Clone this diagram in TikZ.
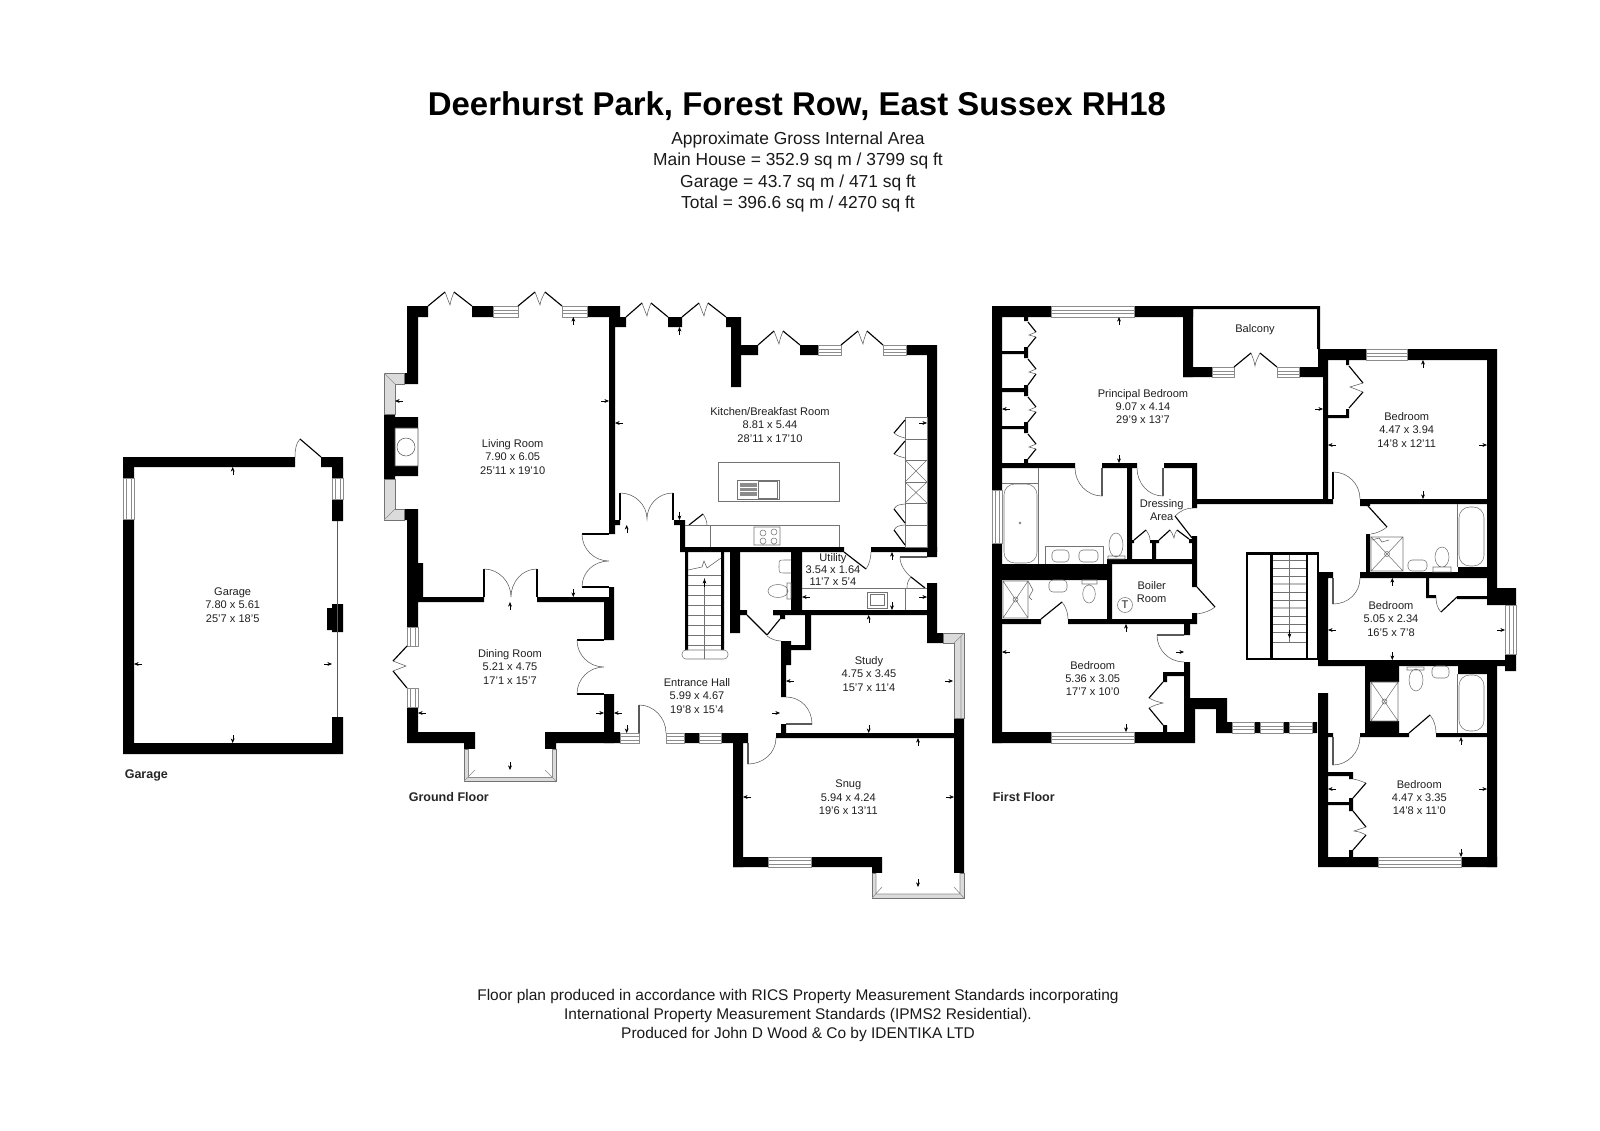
\documentclass[tikz,border=0pt]{standalone}
\usepackage{fontspec}
\setmainfont{Liberation Sans}
\usetikzlibrary{arrows.meta}
\tikzset{
  wall/.style={fill=black},
  glass/.style={draw=black!45,line width=0.45pt,fill=white},
  baypane/.style={draw=black!55,line width=0.4pt,fill=black!14},
  leaf/.style={draw=black,line width=0.85pt},
  swing/.style={draw=black!65,line width=0.4pt},
  fitting/.style={draw=black!55,line width=0.4pt},
  dimtick/.style={draw=black,line width=0.3pt,-{Stealth[length=3.4pt,width=2.8pt]}},
  roomlabel/.style={align=center,inner sep=0.75pt,font=\fontsize{8.3}{10}\selectfont,text=black!88},
  floorlabel/.style={anchor=west,inner sep=0.75pt,font=\fontsize{9.4}{10}\selectfont\bfseries,text=black!85},
  headlabel/.style={align=center,inner sep=0.75pt,font=\fontsize{13.05}{15.9}\selectfont,text=black!90},
  footlabel/.style={align=center,inner sep=0.75pt,font=\fontsize{11.6}{14.1}\selectfont,text=black!90}
}
\begin{document}
\begin{tikzpicture}[x=0.75pt,y=0.75pt,yscale=-1,xscale=1]
\useasboundingbox (0,0) rectangle (1600,1131);

%Shape: Garage walls
\fill[wall] (123,457) rectangle (295,467) (321,457) rectangle (343,467) (332,467) rectangle (343,478) (332,499) rectangle (343,521);
\fill[wall] (123,457) rectangle (134,478) (123,519) rectangle (134,754) (123,743) rectangle (343,754) (332,717) rectangle (343,754);
\fill[wall] (332,604) rectangle (343,632) (327,608) rectangle (332,630);
\draw[swing] (337.5,521) -- (337.5,717);
\draw[glass] (123,478) rectangle (134,519) (126,478) rectangle (131,519);
\draw[glass] (332,478) rectangle (343,499) (335,478) rectangle (340,499);
\draw[leaf] (321,457) -- (300,439);
\draw[swing] (300,439) .. controls (296,443) and (295,450) .. (295,457);

%Shape: Living room and dining room walls
\fill[wall] (407,306) rectangle (428,317) (472,306) rectangle (493,317) (587,306) rectangle (620,317);
\fill[wall] (407,306) rectangle (418,384) (404,373) rectangle (418,384) (404,509) rectangle (418,520) (407,509) rectangle (418,627) (407,563) rectangle (423,602);
\fill[wall] (384,414) rectangle (395,479) (395,417) rectangle (418,428) (395,466) rectangle (418,476);
\fill[wall] (423,597) rectangle (484,602) (537,597) rectangle (604,602);
\fill[wall] (609,587) rectangle (614,597) (604,597) rectangle (614,640) (604,694) rectangle (614,743);
\fill[wall] (407,707) rectangle (418,743) (407,732) rectangle (475,743) (464,743) rectangle (475,749) (545,732) rectangle (620,743) (545,743) rectangle (556,749);
\draw[swing] (395,428) rectangle (418,466) (406,447) circle (9);
%Shape: Living room glazing
\draw[glass] (493,306) rectangle (518,317) (493,310) rectangle (518,313);
\draw[glass] (562,306) rectangle (587,317) (562,310) rectangle (587,313);
\draw[glass] (407,627) rectangle (418,646) (410,627) rectangle (415,646);
\draw[glass] (407,688) rectangle (418,707) (410,688) rectangle (415,707);
\draw[baypane] (384,373) -- (404,373) -- (404,384) -- (395,384) -- (395,414) -- (384,414) -- cycle;
\draw[baypane] (384,479) -- (395,479) -- (395,509) -- (404,509) -- (404,520) -- (384,520) -- cycle;
\draw[baypane] (464,749) -- (475,749) -- (475,770) -- (545,770) -- (545,749) -- (556,749) -- (556,781) -- (464,781) -- cycle;
\draw[glass] (468,749) -- (468,777) -- (552,777) -- (552,749);
\draw[glass] (384,373) -- (395,384) (384,520) -- (395,509) (464,781) -- (475,770) (556,781) -- (545,770);
%Shape: Living room doors
\draw[leaf] (428,306) -- (445,292) (454,292) -- (472,306);
\draw[swing] (445,292) .. controls (448,300) .. (450,305) .. controls (451,300) .. (454,292);
\draw[leaf] (518,306) -- (535,292) (545,292) -- (562,306);
\draw[swing] (535,292) .. controls (538,300) .. (540,305) .. controls (541,300) .. (545,292);
\draw[leaf] (407,646) -- (393,661) (393,671) -- (407,688);
\draw[swing] (393,661) .. controls (399,664) .. (406,666) .. controls (399,668) .. (393,671);
\draw[leaf] (484,597) -- (484,569) (537,597) -- (537,569);
\draw[swing] (484,569) .. controls (499,569) and (511,582) .. (511,597) .. controls (511,582) and (522,569) .. (537,569);
\draw[leaf] (582,534) -- (609,534) (582,587) -- (609,587);
\draw[swing] (582,534) .. controls (582,549) and (594,561) .. (609,561) .. controls (594,561) and (582,572) .. (582,587);
\draw[leaf] (577,640) -- (604,640) (577,694) -- (604,694);
\draw[swing] (577,640) .. controls (577,655) and (589,667) .. (604,667) .. controls (589,667) and (577,679) .. (577,694);

%Shape: Kitchen walls
\fill[wall] (609,306) rectangle (615,534) (609,317) rectangle (626,327) (609,520) rectangle (620,525);
\fill[wall] (668,317) rectangle (682,327) (726,317) rectangle (741,327) (731,317) rectangle (741,387);
\fill[wall] (741,345) rectangle (758,355) (800,345) rectangle (818,355) (906,345) rectangle (937,355) (927,345) rectangle (937,557);
\fill[wall] (674,520) rectangle (685,525) (680,525) rectangle (685,552) (680,547) rectangle (844,552) (871,547) rectangle (937,552);
%Shape: Kitchen glazing and doors
\draw[glass] (818,345) rectangle (841,355) (818,349) rectangle (841,352);
\draw[glass] (883,345) rectangle (906,355) (883,349) rectangle (906,352);
\draw[leaf] (626,317) -- (642,303) (651,303) -- (668,317);
\draw[swing] (642,303) .. controls (645,311) .. (647,316) .. controls (648,311) .. (651,303);
\draw[leaf] (682,317) -- (699,303) (708,303) -- (726,317);
\draw[swing] (699,303) .. controls (702,311) .. (704,316) .. controls (705,311) .. (708,303);
\draw[leaf] (758,345) -- (774,331) (783,331) -- (800,345);
\draw[swing] (774,331) .. controls (777,339) .. (779,344) .. controls (780,339) .. (783,331);
\draw[leaf] (841,345) -- (858,331) (867,331) -- (883,345);
\draw[swing] (858,331) .. controls (861,339) .. (863,344) .. controls (864,339) .. (867,331);
\draw[leaf] (620,520) -- (620,493) (673,520) -- (673,493);
\draw[swing] (620,493) .. controls (635,493) and (647,505) .. (647,519) .. controls (647,505) and (658,493) .. (673,493);
\draw[leaf] (689,525) -- (703,514);
\draw[swing] (703,514) .. controls (705,517) and (707,521) .. (707,525);
%Shape: Kitchen fittings
\draw[fitting] (718,462) rectangle (839,501);
\draw[fitting] (737,480) rectangle (779,499) (758,481) rectangle (777,498);
\fill[black!45] (740,483) rectangle (757,496);
\draw[white,line width=0.4pt] (740,487) -- (757,487) (740,491) -- (757,491);
\draw[fitting] (685,525) -- (839,525) -- (839,547) (710,525) -- (710,547);
\draw[fitting] (754,527) rectangle (780,545) (763,533) circle (3) (774,532) circle (3) (763,541) circle (3) (774,541) circle (3);
\draw[fitting] (905,417) rectangle (927,547) (905,439) -- (927,439) (905,460) -- (927,460) (905,482) -- (927,482) (905,503) -- (927,503) (905,525) -- (927,525);
\draw[fitting] (905,460) -- (927,482) (905,482) -- (927,460) (905,482) -- (927,503) (905,503) -- (927,482);
\draw[leaf] (905,420) -- (894,433) (905,441) -- (894,454) (894,509) -- (905,523) (894,530) -- (905,545);
\draw[swing] (894,433) .. controls (898,436) .. (905,438) (894,454) .. controls (898,456) .. (905,458) (894,509) .. controls (897,505) .. (905,504) (894,530) .. controls (897,526) .. (905,525);

%Shape: Utility, cloakroom and stair walls
\fill[wall] (791,552) rectangle (802,610) (773,610) rectangle (927,615) (927,583) rectangle (937,643) (927,633) rectangle (943,643);
\fill[wall] (730,552) rectangle (740,633) (740,610) rectangle (747,615) (773,610) rectangle (785,615) (780,615) rectangle (785,619);
\draw[leaf] (844,552) -- (866,569);
\draw[swing] (866,569) .. controls (869,565) and (871,558) .. (871,552);
\draw[leaf] (900,557) -- (927,557) (911,577) -- (925,588);
\draw[swing] (900,557) .. controls (900,565) and (905,572) .. (911,577) .. controls (908,580) and (907,584) .. (907,588);
\draw[fitting] (802,588) -- (927,588) (905,588) -- (905,610);
\draw[fitting] (867,592) rectangle (887,608) (870,594) rectangle (884,605);
\draw[fitting] (791,560) -- (784,560) .. controls (779,560) .. (779,566) .. controls (779,573) .. (784,573) -- (791,573);
\draw[fitting] (778,591) ellipse (10 and 6.5) (787,583) rectangle (791,599);
%Shape: Stairs
\fill[wall] (685,552) rectangle (688,650) (721,552) rectangle (724,650);
\draw[fitting] (688,575) -- (721,575) (688,585) -- (721,585) (688,595) -- (721,595) (688,605) -- (721,605) (688,615) -- (721,615) (688,625) -- (721,625) (688,635) -- (721,635) (688,645) -- (721,645);
\draw[fitting] (704.5,578) -- (704.5,659);
\draw[fitting,rounded corners=3pt] (682,650) rectangle (728,659);
\draw[swing] (688,570) -- (702,567) -- (704,561) -- (707,568) -- (721,558);
\draw[dimtick] (704.5,587) -- (704.5,579);

%Shape: Entrance hall and study walls
\fill[wall] (805,615) rectangle (811,650) (781,645) rectangle (811,650) (781,641) rectangle (791,665) (781,665) rectangle (786,697) (781,724) rectangle (786,733);
\fill[wall] (776,733) rectangle (964,738) (954,718) rectangle (964,873);
\fill[wall] (684,733) rectangle (699,743) (721,733) rectangle (748,743) (733,743) rectangle (743,867);
\fill[wall] (733,857) rectangle (768,867) (811,857) rectangle (882,867) (872,867) rectangle (882,873);
\draw[glass] (620,733) rectangle (639,743) (620,736) rectangle (639,740);
\draw[glass] (666,733) rectangle (684,743) (666,736) rectangle (684,740);
\draw[glass] (699,733) rectangle (721,743) (699,736) rectangle (721,740);
\draw[glass] (768,857) rectangle (811,867) (768,860) rectangle (811,864);
\draw[leaf] (639,733) -- (639,705) (748,743) -- (748,764) (747,615) -- (767,635) (780,619) -- (767,635) (786,724) -- (812,724);
\draw[swing] (639,705) .. controls (654,705) and (666,718) .. (666,733) (748,764) .. controls (763,764) and (776,753) .. (776,738) (767,636) .. controls (771,639) and (776,641) .. (781,641) (786,697) .. controls (801,697) and (812,709) .. (812,724);
\draw[baypane] (943,633) -- (964,633) -- (964,718) -- (954,718) -- (954,643) -- (943,643) -- cycle;
\draw[glass] (961,636) -- (961,718) (954,643) -- (964,633);
\draw[baypane] (872,873) -- (882,873) -- (882,887) -- (954,887) -- (954,873) -- (964,873) -- (964,898) -- (872,898) -- cycle;
\draw[glass] (876,873) -- (876,894) -- (960,894) -- (960,873) (872,898) -- (882,887) (964,898) -- (954,887);

%Shape: Principal bedroom and balcony walls
\fill[wall] (992,306) rectangle (1051,317) (1134,306) rectangle (1193,317) (992,306) rectangle (1002,490) (992,543) rectangle (1002,743);
\fill[wall] (1183,306) rectangle (1193,377) (1193,306) rectangle (1320,309) (1317,306) rectangle (1320,349);
\fill[wall] (1183,367) rectangle (1212,377) (1299,367) rectangle (1318,377);
\fill[wall] (1318,349) rectangle (1328,377) (1323,377) rectangle (1328,499) (1197,499) rectangle (1333,504);
\fill[wall] (1002,351) rectangle (1028,354) (1002,388) rectangle (1028,392) (1002,426) rectangle (1028,429) (1024,317) rectangle (1028,321) (1024,347) rectangle (1028,358) (1024,385) rectangle (1028,396) (1024,422) rectangle (1028,433) (1024,459) rectangle (1028,464);
\fill[wall] (1002,463) rectangle (1075,468) (1102,463) rectangle (1137,468) (1164,463) rectangle (1197,468) (1192,463) rectangle (1197,508);
\draw[glass] (1051,306) rectangle (1134,317) (1051,310) rectangle (1134,313);
\draw[glass] (1212,367) rectangle (1234,377) (1212,371) rectangle (1234,374);
\draw[glass] (1277,367) rectangle (1299,377) (1277,371) rectangle (1299,374);
\draw[leaf] (1234,367) -- (1251,353) (1260,353) -- (1277,367);
\draw[swing] (1251,353) .. controls (1254,361) .. (1255,366) .. controls (1256,361) .. (1260,353);
\draw[leaf] (1028,322) -- (1036,332) (1036,337) -- (1028,347) (1028,359) -- (1036,369) (1036,374) -- (1028,385) (1028,397) -- (1036,407) (1036,412) -- (1028,422) (1028,434) -- (1036,444) (1036,449) -- (1028,459);
\draw[swing] (1036,332) .. controls (1032,334) .. (1029,335) .. controls (1032,336) .. (1036,337) (1036,369) .. controls (1032,371) .. (1029,372) .. controls (1032,373) .. (1036,374) (1036,407) .. controls (1032,409) .. (1029,410) .. controls (1032,411) .. (1036,412) (1036,444) .. controls (1032,446) .. (1029,447) .. controls (1032,448) .. (1036,449);

%Shape: Ensuite and dressing area walls
\fill[wall] (1127,463) rectangle (1132,564) (1002,564) rectangle (1107,580) (1107,559) rectangle (1197,564) (1107,559) rectangle (1112,619) (1192,536) rectangle (1197,587);
\fill[wall] (1002,619) rectangle (1041,624) (1068,619) rectangle (1197,624) (1192,613) rectangle (1197,624);
\fill[wall] (1152,540) rectangle (1156,559) (1150,540) rectangle (1159,543) (1132,540) rectangle (1134,543) (1189,539) rectangle (1192,543);
\draw[glass] (992,490) rectangle (1002,543) (995,490) rectangle (999,543);
\draw[leaf] (1102,468) -- (1102,496) (1163,468) -- (1163,496) (1175,516) -- (1192,538) (1134,540) -- (1146,530) (1159,540) -- (1170,530) (1177,530) -- (1189,539) (1197,587) -- (1215,607) (1041,619) -- (1062,602);
\draw[swing] (1102,496) .. controls (1087,496) and (1075,483) .. (1075,468) (1163,496) .. controls (1148,496) and (1137,483) .. (1137,468) (1193,508) .. controls (1186,508) and (1180,511) .. (1175,516) (1146,530) .. controls (1148,533) and (1150,536) .. (1150,540) (1170,530) .. controls (1172,533) .. (1174,538) .. controls (1175,533) .. (1177,530) (1215,607) .. controls (1210,611) and (1204,613) .. (1197,614) (1062,602) .. controls (1066,607) and (1068,613) .. (1068,619);
%Shape: Ensuite fittings
\draw[fitting] (1038,468) -- (1038,564) (1002,483) -- (1038,483) (1045,564) -- (1045,546) -- (1103,546) -- (1103,564);
\draw[fitting,rounded corners=8pt] (1004,484) -- (1037,484) -- (1037,563) -- (1004,563) -- cycle;
\draw[fitting] (1020,523) circle (1);
\draw[fitting,rounded corners=3pt] (1052,550) rectangle (1069,562) (1079,550) rectangle (1098,562);
\draw[fitting] (1116,545) ellipse (7 and 12) (1108,556) rectangle (1125,559);
\draw[fitting] (1003,581) rectangle (1028,618) (1003,581) -- (1028,618) (1003,618) -- (1028,581) (1015.5,599.5) circle (2.5);
\draw[swing] (1028,581) -- (1033,590) -- (1029,597) -- (1032,600);
\draw[fitting,rounded corners=3pt] (1049,580) rectangle (1067,592);
\draw[fitting] (1089,594) ellipse (6.3 and 9) (1082,580) rectangle (1097,584);
\draw[fitting] (1125,605) circle (7.5);

%Shape: Bedroom 5.36 walls
\fill[wall] (992,732) rectangle (1051,743) (1134,732) rectangle (1195,743) (1184,698) rectangle (1195,743) (1184,624) rectangle (1190,635) (1184,662) rectangle (1190,698);
\fill[wall] (1190,698) rectangle (1227,709) (1216,709) rectangle (1227,733) (1216,722) rectangle (1232,733);
\fill[wall] (1163,672) rectangle (1184,676) (1163,672) rectangle (1167,682) (1163,725) rectangle (1167,732);
\draw[glass] (1051,732) rectangle (1134,743) (1051,736) rectangle (1134,739);
\draw[leaf] (1157,635) -- (1184,635) (1163,682) -- (1149,698) (1149,708) -- (1163,725);
\draw[swing] (1157,635) .. controls (1157,650) and (1169,662) .. (1184,662) (1149,698) .. controls (1155,701) .. (1163,703) .. controls (1155,705) .. (1149,708);
\fill[wall] (1254,722) rectangle (1260,733) (1283,722) rectangle (1289,733) (1312,722) rectangle (1317,733);
\draw[glass] (1232,722) rectangle (1254,733) (1232,726) rectangle (1254,729);
\draw[glass] (1260,722) rectangle (1283,733) (1260,726) rectangle (1283,729);
\draw[glass] (1289,722) rectangle (1312,733) (1289,726) rectangle (1312,729);

%Shape: First floor stairs
\draw[black,line width=2pt] (1247,553.5) rectangle (1318,659) (1271.5,553.5) -- (1271.5,659) (1307,553.5) -- (1307,659);
\draw[fitting] (1273,560) -- (1306,560) (1273,568) -- (1306,568) (1273,576) -- (1306,576) (1273,592) -- (1306,592) (1273,600) -- (1306,600) (1273,616) -- (1306,616) (1273,624) -- (1306,624) (1273,632) -- (1306,632) (1273,642) -- (1306,642);
\draw[black!25,line width=1pt] (1273,584) -- (1306,584) (1273,608) -- (1306,608);
\draw[fitting] (1289.5,555) -- (1289.5,642);
\draw[dimtick] (1289.5,630) -- (1289.5,638);

%Shape: Bedroom 4.47 x 3.94 walls
\fill[wall] (1318,349) rectangle (1366,360) (1407,349) rectangle (1497,360) (1487,349) rectangle (1497,588);
\fill[wall] (1360,499) rectangle (1487,504) (1360,502) rectangle (1370,506);
\fill[wall] (1328,415) rectangle (1349,418) (1346,360) rectangle (1349,365) (1346,409) rectangle (1349,418);
\draw[glass] (1366,349) rectangle (1407,360) (1366,353) rectangle (1407,356);
\draw[leaf] (1349,366) -- (1363,383) (1363,392) -- (1349,408);
\draw[swing] (1363,383) .. controls (1356,385) .. (1350,387) .. controls (1356,389) .. (1363,392);
\draw[leaf] (1333,499) -- (1333,472);
\draw[swing] (1333,472) .. controls (1348,472) and (1360,484) .. (1360,499);

%Shape: Family bathroom walls
\fill[wall] (1366,534) rectangle (1370,572) (1360,572) rectangle (1487,578) (1458,567) rectangle (1487,572);
\draw[leaf] (1368,506) -- (1387,527);
\draw[swing] (1387,527) .. controls (1382,531) and (1377,533) .. (1371,534);
\draw[fitting] (1371,537) rectangle (1403,571) (1371,537) -- (1403,571) (1371,571) -- (1403,537) (1387,554) circle (2.5);
\draw[swing] (1372,540) -- (1379,538) -- (1382,542) -- (1389,540);
\draw[fitting] (1457,504) -- (1457,567);
\draw[fitting,rounded corners=8pt] (1459,566) -- (1459,507) -- (1484,507) -- (1484,566) -- cycle;
\draw[fitting,rounded corners=3pt] (1408,560) rectangle (1427,571);
\draw[fitting] (1442,557) ellipse (7 and 10) (1433,567) rectangle (1451,572);

%Shape: Bedroom 5.05 x 2.34 walls
\fill[wall] (1318,572) rectangle (1328,665) (1328,572) rectangle (1333,578) (1318,660) rectangle (1505,666);
\fill[wall] (1426,578) rectangle (1429,598) (1426,595) rectangle (1436,598) (1457,596) rectangle (1505,599);
\fill[wall] (1487,588) rectangle (1516,605) (1505,654) rectangle (1516,671);
\draw[glass] (1505,605) rectangle (1516,654) (1509,605) rectangle (1513,654);
\draw[leaf] (1333,578) -- (1333,604) (1457,597) -- (1441,612);
\draw[swing] (1333,604) .. controls (1348,604) and (1360,593) .. (1360,578) (1441,612) .. controls (1438,609) and (1436,604) .. (1436,598);

%Shape: Rear bathroom and bedroom 4.47 x 3.35 walls
\fill[wall] (1458,666) rectangle (1497,674) (1487,666) rectangle (1497,867);
\fill[wall] (1365,666) rectangle (1399,682) (1365,666) rectangle (1370,737) (1365,721) rectangle (1399,737) (1360,733) rectangle (1409,737) (1436,733) rectangle (1487,737);
\fill[wall] (1318,693) rectangle (1328,867) (1328,733) rectangle (1333,737) (1318,857) rectangle (1378,867) (1461,857) rectangle (1497,867);
\fill[wall] (1328,772) rectangle (1353,776) (1328,802) rectangle (1353,805) (1349,772) rectangle (1353,779) (1349,798) rectangle (1353,811) (1349,850) rectangle (1353,857);
\draw[glass] (1378,857) rectangle (1461,867) (1378,860) rectangle (1461,864);
\draw[leaf] (1333,737) -- (1333,765) (1409,733) -- (1430,715) (1366,783) -- (1353,798) (1353,811) -- (1366,827) (1366,835) -- (1353,850);
\draw[swing] (1333,765) .. controls (1348,765) and (1360,752) .. (1360,737) (1430,715) .. controls (1434,720) and (1436,726) .. (1436,733) (1353,779) .. controls (1358,780) .. (1366,783) (1366,827) .. controls (1360,829) .. (1354,831) .. controls (1360,832) .. (1366,835);
\draw[fitting] (1371,682) rectangle (1398,721) (1371,682) -- (1398,721) (1371,721) -- (1398,682) (1384.5,701.5) circle (2.5);
\draw[fitting] (1457,674) -- (1457,733);
\draw[fitting,rounded corners=8pt] (1459,675) -- (1484,675) -- (1484,731) -- (1459,731) -- cycle;
\draw[fitting] (1416,680) ellipse (7 and 11) (1407,667) rectangle (1424,670);
\draw[fitting,rounded corners=3pt] (1432,666) rectangle (1449,678);

%Shape: Dimension ticks
\draw[dimtick] (232.7,475) -- (232.7,467);
\draw[dimtick] (232.7,735) -- (232.7,743);
\draw[dimtick] (142,664) -- (134,664);
\draw[dimtick] (324,664) -- (332,664);
\draw[dimtick] (573.3,325) -- (573.3,317);
\draw[dimtick] (573.3,589) -- (573.3,597);
\draw[dimtick] (403,401) -- (395,401);
\draw[dimtick] (601,401) -- (609,401);
\draw[dimtick] (510,610) -- (510,602);
\draw[dimtick] (510,762) -- (510,770);
\draw[dimtick] (426,713) -- (418,713);
\draw[dimtick] (596,713) -- (604,713);
\draw[dimtick] (623,423) -- (615,423);
\draw[dimtick] (679.5,335) -- (679.5,327);
\draw[dimtick] (919,423) -- (927,423);
\draw[dimtick] (679.5,512) -- (679.5,520);
\draw[dimtick] (622,713) -- (614,713);
\draw[dimtick] (772,713) -- (780,713);
\draw[dimtick] (626.7,533) -- (626.7,525);
\draw[dimtick] (626.7,725) -- (626.7,733);
\draw[dimtick] (810,597) -- (802,597);
\draw[dimtick] (919,597) -- (927,597);
\draw[dimtick] (892,560) -- (892,552);
\draw[dimtick] (892,602) -- (892,610);
\draw[dimtick] (868.7,623) -- (868.7,615);
\draw[dimtick] (868.7,725) -- (868.7,733);
\draw[dimtick] (794,681) -- (786,681);
\draw[dimtick] (945,681) -- (953,681);
\draw[dimtick] (918,746) -- (918,738);
\draw[dimtick] (918,879) -- (918,887);
\draw[dimtick] (751,797) -- (743,797);
\draw[dimtick] (946,797) -- (954,797);
\draw[dimtick] (1119,325) -- (1119,317);
\draw[dimtick] (1119,455) -- (1119,463);
\draw[dimtick] (1010,409) -- (1002,409);
\draw[dimtick] (1315,409) -- (1323,409);
\draw[dimtick] (1423,368) -- (1423,360);
\draw[dimtick] (1423,491) -- (1423,499);
\draw[dimtick] (1336,445) -- (1328,445);
\draw[dimtick] (1479,445) -- (1487,445);
\draw[dimtick] (1392.3,586) -- (1392.3,578);
\draw[dimtick] (1392.3,652) -- (1392.3,660);
\draw[dimtick] (1336,630) -- (1328,630);
\draw[dimtick] (1497,630) -- (1505,630);
\draw[dimtick] (1461,745) -- (1461,737);
\draw[dimtick] (1461,849) -- (1461,857);
\draw[dimtick] (1336,789) -- (1328,789);
\draw[dimtick] (1479,789) -- (1487,789);
\draw[dimtick] (1126,632) -- (1126,624);
\draw[dimtick] (1126,724) -- (1126,732);
\draw[dimtick] (1010,652) -- (1002,652);
\draw[dimtick] (1176,652) -- (1184,652);

% Text Node
\node[inner sep=0.75pt,font=\fontsize{24.7}{28}\selectfont\bfseries] (title) at (797,106) {Deerhurst Park, Forest Row, East Sussex RH18};
% Text Node
\node[headlabel] (areas) at (798,172) {Approximate Gross Internal Area\\Main House = 352.9 sq m / 3799 sq ft\\Garage = 43.7 sq m / 471 sq ft\\Total = 396.6 sq m / 4270 sq ft};
% Text Node
\node[footlabel] (credit) at (798,1015.5) {Floor plan produced in accordance with RICS Property Measurement Standards incorporating\\International Property Measurement Standards (IPMS2 Residential).\\Produced for John D Wood \& Co by IDENTIKA LTD};
% Text Node
\node[floorlabel] (garagefloor) at (123.5,775.5) {Garage};
% Text Node
\node[floorlabel] (groundfloor) at (407.5,797) {Ground Floor};
% Text Node
\node[floorlabel] (firstfloor) at (991.5,797.5) {First Floor};
% Text Node
\node[roomlabel] (garage) at (232.7,605) {Garage\\7.80 x 5.61\\25'7 x 18'5};
% Text Node
\node[roomlabel] (living) at (512.7,457) {Living Room\\7.90 x 6.05\\25'11 x 19'10};
% Text Node
\node[roomlabel] (dining) at (510,667) {Dining Room\\5.21 x 4.75\\17'1 x 15'7};
% Text Node
\node[roomlabel] (kitchen) at (770,425) {Kitchen/Breakfast Room\\8.81 x 5.44\\28'11 x 17'10};
% Text Node
\node[roomlabel,font=\fontsize{8.3}{9}\selectfont] (utility) at (833,569.5) {Utility\\3.54 x 1.64\\11'7 x 5'4};
% Text Node
\node[roomlabel] (hall) at (697,696) {Entrance Hall\\5.99 x 4.67\\19'8 x 15'4};
% Text Node
\node[roomlabel] (study) at (869,674) {Study\\4.75 x 3.45\\15'7 x 11'4};
% Text Node
\node[roomlabel] (snug) at (848.3,797.5) {Snug\\5.94 x 4.24\\19'6 x 13'11};
% Text Node
\node[roomlabel] (principal) at (1143,406.5) {Principal Bedroom\\9.07 x 4.14\\29'9 x 13'7};
% Text Node
\node[roomlabel] (balcony) at (1255,330) {Balcony};
% Text Node
\node[roomlabel,font=\fontsize{8.3}{9.6}\selectfont] (dressing) at (1161.7,510) {Dressing\\Area};
% Text Node
\node[roomlabel,font=\fontsize{8.3}{9.6}\selectfont] (boiler) at (1151.7,592) {Boiler\\Room};
% Text Node
\node[roomlabel] (thermostat) at (1125,605) {T};
% Text Node
\node[roomlabel] (bedroomeast) at (1406.7,430) {Bedroom\\4.47 x 3.94\\14'8 x 12'11};
% Text Node
\node[roomlabel] (bedroommid) at (1391,619) {Bedroom\\5.05 x 2.34\\16'5 x 7'8};
% Text Node
\node[roomlabel] (bedroomrear) at (1419.3,797.5) {Bedroom\\4.47 x 3.35\\14'8 x 11'0};
% Text Node
\node[roomlabel] (bedroomwest) at (1092.7,678.5) {Bedroom\\5.36 x 3.05\\17'7 x 10'0};

\end{tikzpicture}
\end{document}
